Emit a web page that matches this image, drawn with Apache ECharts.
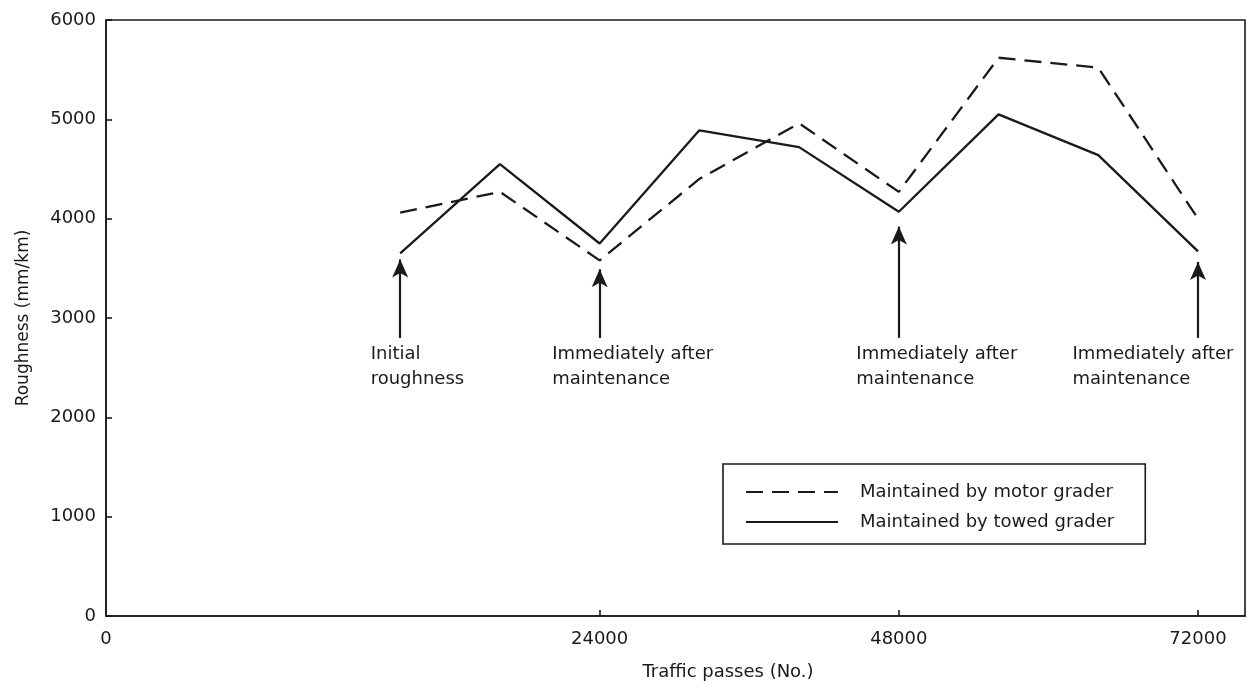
<!DOCTYPE html>
<html>
<head>
<meta charset="utf-8">
<script src="https://cdn.jsdelivr.net/npm/echarts@6/dist/echarts.min.js"></script>
<style>
html,body{margin:0;padding:0;background:#fff;}
#chart{width:1258px;height:689px;}
</style>
</head>
<body>
<div id="chart"></div>
<script>
// ---- data ----
const passes = [8000, 16000, 24000, 32000, 40000, 48000, 56000, 64000, 72000];
const motorGrader = [4060, 4270, 3580, 4400, 4960, 4270, 5620, 5520, 4000];
const towedGrader = [3650, 4550, 3750, 4890, 4720, 4070, 5050, 4640, 3670];
const seriesNames = ['Maintained by motor grader', 'Maintained by towed grader'];
const xTickValues = [24000, 48000, 72000];
const xOriginLabel = '0';
const arrowPasses = [8000, 24000, 48000, 72000];
const arrowBase = 2800;
const arrowTip = [3590, 3490, 3920, 3565];
const arrowTexts = ['Initial\nroughness', 'Immediately after\nmaintenance', 'Immediately after\nmaintenance', 'Immediately after\nmaintenance'];

// ---- layout / style ----
const xMin = -15600, xMax = 75770;
const labelDx = [-29, -47, -42, -125];
const ink = '#1a1a1a';
const font = 'DejaVu Sans';

const annotationLabel = (i) => ({
  show: true, position: [labelDx[i], 4], formatter: arrowTexts[i],
  align: 'left', verticalAlign: 'top', fontFamily: font, fontSize: 18, lineHeight: 25,
  color: ink, opacity: 1, textBorderWidth: 0
});

const chart = echarts.init(document.getElementById('chart'), null, {renderer: 'canvas'});
chart.setOption({
  animation: false,
  backgroundColor: '#fff',
  grid: {left: 106, right: 13, top: 20, bottom: 73, show: true, borderColor: ink, borderWidth: 1.6, backgroundColor: 'transparent'},
  xAxis: {
    type: 'value', min: xMin, max: xMax,
    name: 'Traffic passes (No.)', nameLocation: 'middle', nameGap: 47,
    nameTextStyle: {fontFamily: font, fontSize: 18, color: ink, padding: [0, 0, 0, 105]},
    axisLine: {show: true, onZero: false, lineStyle: {color: ink, width: 1.6}},
    axisTick: {show: true, inside: true, length: 6, lineStyle: {color: ink, width: 1.6}, customValues: xTickValues},
    axisLabel: {fontFamily: font, fontSize: 18, color: ink, margin: 14, showMinLabel: true,
      customValues: [xMin].concat(xTickValues),
      formatter: v => (v === xMin ? xOriginLabel : String(v))},
    splitLine: {show: false}
  },
  yAxis: {
    type: 'value', min: 0, max: 6000, interval: 1000,
    name: 'Roughness (mm/km)', nameLocation: 'middle', nameGap: 74,
    nameTextStyle: {fontFamily: font, fontSize: 17, color: ink},
    axisLine: {show: true, onZero: false, lineStyle: {color: ink, width: 1.6}},
    axisTick: {show: true, inside: true, length: 6, lineStyle: {color: ink, width: 1.6}},
    axisLabel: {fontFamily: font, fontSize: 18, color: ink, margin: 10, formatter: v => String(v)},
    splitLine: {show: false}
  },
  legend: {
    data: seriesNames,
    orient: 'vertical', left: 723, top: 464,
    backgroundColor: '#fff', borderColor: ink, borderWidth: 1.6, borderRadius: 0,
    padding: [19, 31, 13, 22],
    itemWidth: 92, itemHeight: 14, itemGap: 12,
    itemStyle: {opacity: 0},
    textStyle: {fontFamily: font, fontSize: 18, color: ink, padding: [0, 0, 0, 17]},
    selectedMode: false
  },
  series: [
    {
      name: seriesNames[0], type: 'line', symbol: 'none',
      data: passes.map((p, i) => [p, motorGrader[i]]),
      lineStyle: {color: ink, width: 2.3, type: [17, 9]},
      itemStyle: {color: ink}
    },
    {
      name: seriesNames[1], type: 'line', symbol: 'none',
      data: passes.map((p, i) => [p, towedGrader[i]]),
      lineStyle: {color: ink, width: 2.3, type: 'solid'},
      itemStyle: {color: ink},
      markLine: {
        silent: true, symbol: ['none', 'arrow'], symbolSize: [12, 18],
        label: {show: false},
        lineStyle: {color: ink, width: 2.2, type: 'solid'},
        data: arrowPasses.map((p, i) => [{coord: [p, arrowBase]}, {coord: [p, arrowTip[i]]}])
      }
    },
    {
      name: 'annotations', type: 'scatter', symbolSize: 1,
      itemStyle: {color: 'rgba(0,0,0,0)'}, silent: true,
      emphasis: {disabled: true},
      data: arrowPasses.map((p, i) => ({
        value: [p, arrowBase],
        label: annotationLabel(i)
      })),
      label: {show: true, color: ink}
    }
  ]
});
</script>
</body>
</html>
